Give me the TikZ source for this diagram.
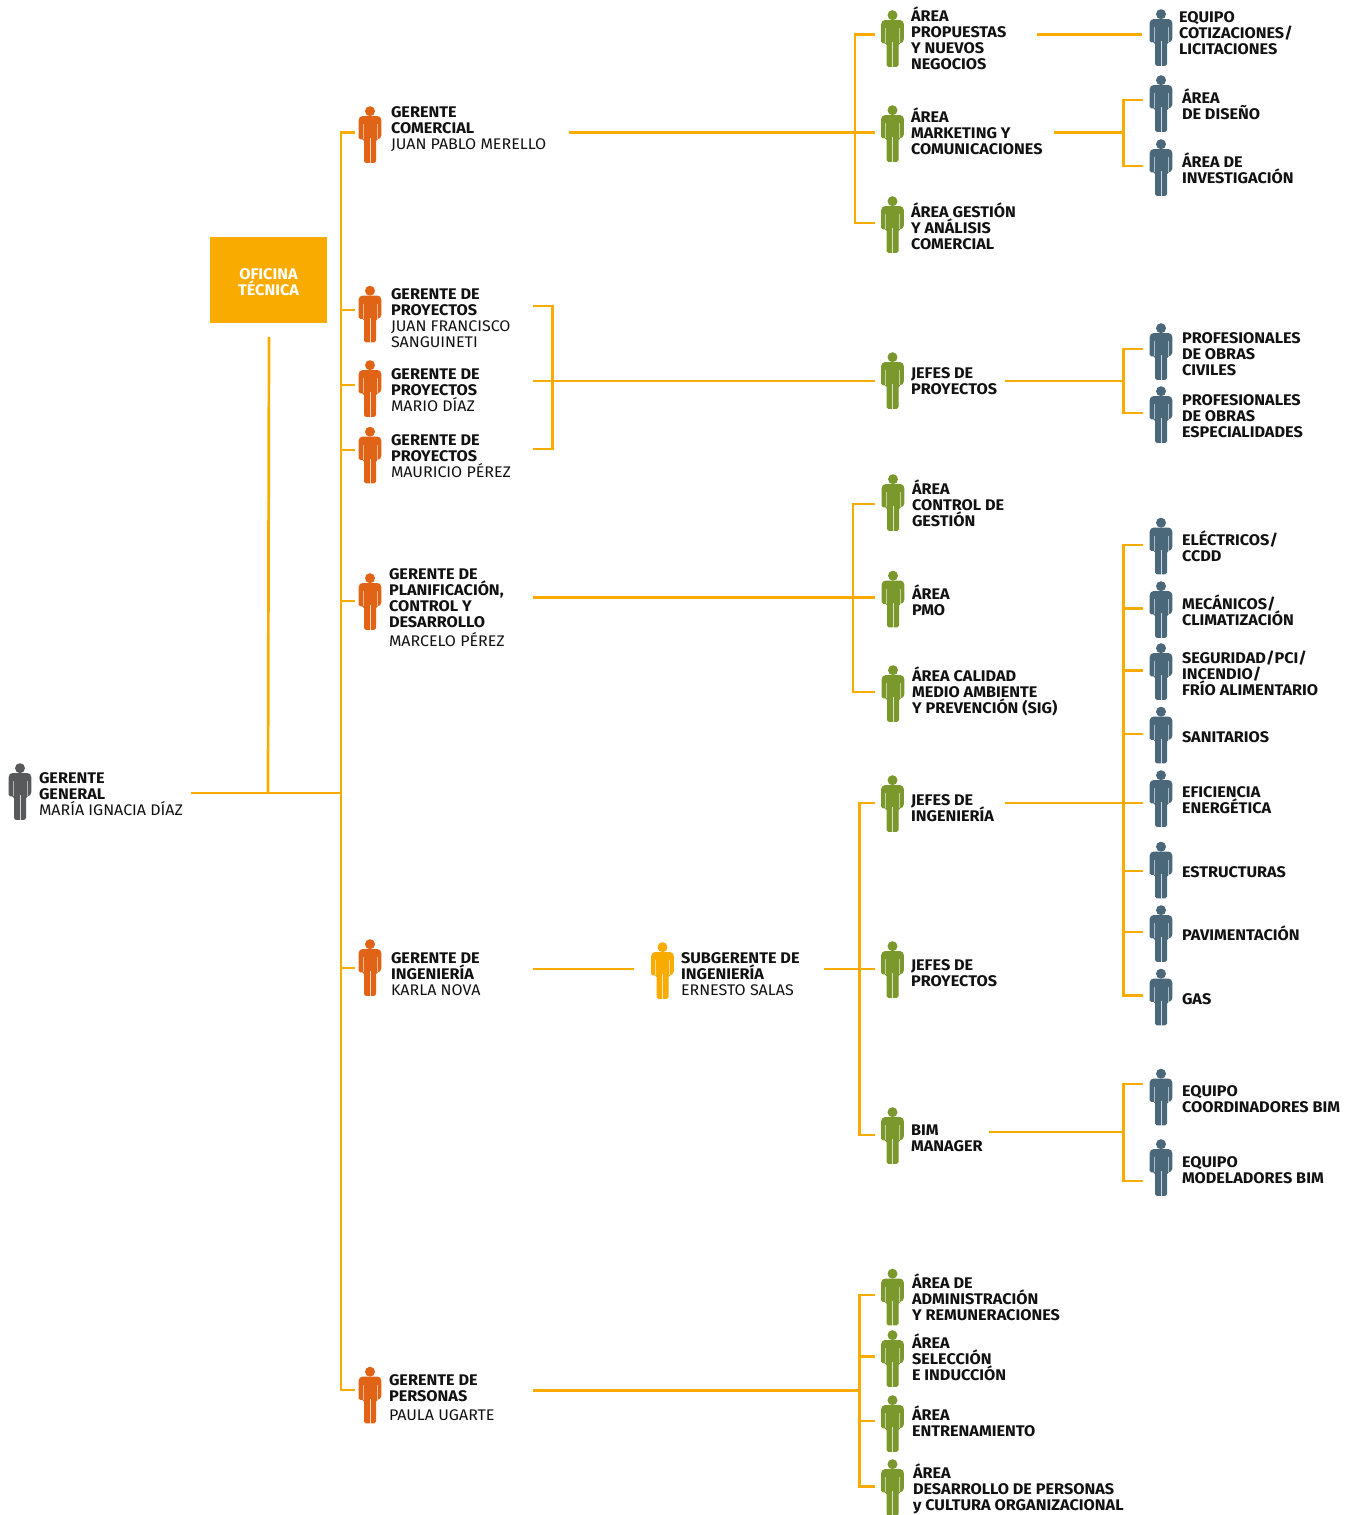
\documentclass[tikz,border=0pt]{standalone}
\usepackage{fontspec}
\setmainfont{Fira Sans}[FakeStretch=1.055]
\newfontfamily\nmfont{Fira Sans}[FakeStretch=1.04]
\definecolor{lineamber}{HTML}{FAAB00}
\definecolor{pgrey}{HTML}{58595B}
\definecolor{porange}{HTML}{E06316}
\definecolor{pamber}{HTML}{FAAB00}
\definecolor{pgreen}{HTML}{7A982B}
\definecolor{pblue}{HTML}{4A6879}
\definecolor{ink}{HTML}{111111}
\setlength{\lineskiplimit}{-20pt}
\tikzset{
  conn/.style={draw=lineamber,line width=2.7pt},
  lab/.style={anchor=north west,inner sep=0pt,outer sep=0pt,align=left,text=ink,font=\fontsize{15.4}{16.1}\selectfont\bfseries},
  figbox/.style={inner sep=0pt,outer sep=0pt,minimum width=23pt,minimum height=57pt},
  figure/.pic={
    \fill[pic actions] (0,5.2) circle[radius=5pt];
    \fill[pic actions,rounded corners=1.6pt] (-6,56.8) -- (-6,33.4) -- (-11.3,33.4)
      [rounded corners=4pt] -- (-11.3,10) -- (11.3,10) -- (11.3,33.4)
      [rounded corners=1.6pt] -- (6,33.4) -- (6,56.8) -- cycle;
    \draw[white,line width=.9pt,opacity=.75] (0,32) -- (0,57);
    \draw[white,line width=.6pt,opacity=.55] (-6.9,18) -- (-6.9,33) (6.9,18) -- (6.9,33);
  }
}
\newcommand{\nm}[1]{{\nmfont\mdseries #1}}
% name, x, top, colour, port x, port y
\newcommand{\fig}[6]{%
  \node[figbox] (#1) at (#2,#3+28.5) {};
  \pic[fill=#4] at (#2,#3) {figure};
  \coordinate (#1-in) at (#5,#6);
}
% name, x, baseline of first line, text
\newcommand{\lab}[4]{\node[lab] (#1) at (#2,#3-16) {\rule{0pt}{16pt}#4};}
\begin{document}
\begin{tikzpicture}[x=1pt,y=-1pt]
\useasboundingbox (0,0) rectangle (1354,1515);
% ---- office
\node[fill=pamber,minimum width=117pt,minimum height=86pt,inner sep=0pt,outer sep=0pt] (oficina) at (268.5,280) {};
\node[lab,anchor=north,align=center,text=white] (oficinatxt) at (268.5,263) {\rule{0pt}{16pt}OFICINA\\TÉCNICA};
% ---- general manager
\fig{gg}{20}{763}{pgrey}{191}{793}
\lab{lgg}{39}{783}{GERENTE\\GENERAL\\[.7pt]\nm{MARÍA IGNACIA DÍAZ}}
% ---- level 1
\fig{gc}{370}{106}{porange}{355}{132.5}
\lab{lgc}{391}{117}{GERENTE\\COMERCIAL\\\nm{JUAN PABLO MERELLO}}
\fig{gpa}{370}{285.5}{porange}{355}{310}
\lab{lgpa}{391}{299.2}{GERENTE DE\\PROYECTOS\\\nm{JUAN FRANCISCO}\\\nm{SANGUINETI}}
\fig{gpb}{370}{360}{porange}{355}{385}
\lab{lgpb}{391}{379}{GERENTE DE\\PROYECTOS\\\nm{MARIO DÍAZ}}
\fig{gpc}{370}{426.5}{porange}{355}{450}
\lab{lgpc}{391}{445.7}{GERENTE DE\\PROYECTOS\\\nm{MAURICIO PÉREZ}}
\fig{gpl}{370}{573}{porange}{355}{601}
\lab{lgpl}{389}{579.5}{GERENTE DE\\PLANIFICACIÓN,\\CONTROL Y\\DESARROLLO\\[2.5pt]\nm{MARCELO PÉREZ}}
\fig{gi}{370}{939}{porange}{355}{968}
\lab{lgi}{391}{963}{GERENTE DE\\INGENIERÍA\\[.7pt]\nm{KARLA NOVA}}
\fig{gpe}{370}{1366.5}{porange}{355}{1390}
\lab{lgpe}{389}{1385}{GERENTE DE\\PERSONAS\\[3.7pt]\nm{PAULA UGARTE}}
% ---- subgerente
\fig{sg}{662.5}{942}{pamber}{634}{969}
\lab{lsg}{681}{963}{SUBGERENTE DE\\INGENIERÍA\\[.7pt]\nm{ERNESTO SALAS}}
% ---- commercial areas
\fig{ap}{892.5}{10}{pgreen}{875}{34.5}
\lab{lap}{911}{21}{ÁREA\\PROPUESTAS\\Y NUEVOS\\NEGOCIOS}
\fig{am}{892.5}{105}{pgreen}{875}{132.5}
\lab{lam}{911}{122.2}{ÁREA\\MARKETING Y\\COMUNICACIONES}
\fig{ag}{892.5}{196}{pgreen}{875}{223}
\lab{lag}{911}{217.5}{ÁREA GESTIÓN\\Y ANÁLISIS\\COMERCIAL}
\fig{ec}{1161}{9}{pblue}{1142}{34.5}
\lab{lec}{1179}{22.3}{EQUIPO\\COTIZACIONES/\\LICITACIONES}
\fig{ad}{1161}{75}{pblue}{1143}{100}
\lab{lad}{1182}{103}{ÁREA\\DE DISEÑO}
\fig{ai}{1161}{139}{pblue}{1143}{166}
\lab{lai}{1182}{167}{ÁREA DE\\INVESTIGACIÓN}
% ---- project chiefs
\fig{jp}{892.5}{352}{pgreen}{875}{381}
\lab{ljp}{911}{378.5}{JEFES DE\\PROYECTOS}
\fig{pc}{1161}{323}{pblue}{1143}{349}
\lab{lpc}{1182}{343.5}{PROFESIONALES\\DE OBRAS\\CIVILES}
\fig{pes}{1161}{386}{pblue}{1143}{413}
\lab{lpes}{1182}{405.5}{PROFESIONALES\\DE OBRAS\\ESPECIALIDADES}
% ---- planning areas
\fig{acg}{893}{474}{pgreen}{875}{504}
\lab{lacg}{912}{494.5}{ÁREA\\CONTROL DE\\GESTIÓN}
\fig{apm}{893}{570.5}{pgreen}{875}{597.5}
\lab{lapm}{912}{599.5}{ÁREA\\PMO}
\fig{acm}{893}{665}{pgreen}{875}{692}
\lab{lacm}{912}{681.5}{ÁREA CALIDAD\\MEDIO AMBIENTE\\Y PREVENCIÓN (SIG)}
% ---- engineering chiefs
\fig{ji}{892.5}{775}{pgreen}{875}{803}
\lab{lji}{911}{805.5}{JEFES DE\\INGENIERÍA}
\fig{jpi}{892.5}{941}{pgreen}{875}{969}
\lab{ljpi}{911}{970.5}{JEFES DE\\PROYECTOS}
\fig{bim}{892.5}{1107}{pgreen}{875}{1135}
\lab{lbim}{911}{1135.5}{BIM\\MANAGER}
% ---- specialties
\fig{s1}{1161}{517.5}{pblue}{1143}{545}
\lab{ls1}{1182}{545.5}{ELÉCTRICOS/\\CCDD}
\fig{s2}{1161}{581}{pblue}{1143}{608.5}
\lab{ls2}{1182}{609.5}{MECÁNICOS/\\CLIMATIZACIÓN}
\fig{s3}{1161}{643}{pblue}{1143}{670.5}
\lab{ls3}{1182}{663.5}{SEGURIDAD/PCI/\\INCENDIO/\\FRÍO ALIMENTARIO}
\fig{s4}{1161}{706.5}{pblue}{1143}{734}
\lab{ls4}{1182}{742.5}{SANITARIOS}
\fig{s5}{1161}{770}{pblue}{1143}{803}
\lab{ls5}{1182}{797.5}{EFICIENCIA\\ENERGÉTICA}
\fig{s6}{1161}{841.5}{pblue}{1143}{871}
\lab{ls6}{1182}{877.5}{ESTRUCTURAS}
\fig{s7}{1161}{905}{pblue}{1143}{932}
\lab{ls7}{1182}{940.5}{PAVIMENTACIÓN}
\fig{s8}{1161}{968.5}{pblue}{1143}{995.5}
\lab{ls8}{1182}{1004.5}{GAS}
% ---- BIM teams
\fig{eb}{1161}{1068.5}{pblue}{1143}{1084}
\lab{leb}{1182}{1096.5}{EQUIPO\\COORDINADORES BIM}
\fig{em}{1161}{1139}{pblue}{1143}{1181}
\lab{lem}{1182}{1167.5}{EQUIPO\\MODELADORES BIM}
% ---- people areas
\fig{pa}{892.5}{1268.5}{pgreen}{875}{1295}
\lab{lpa}{912}{1288.5}{ÁREA DE\\ADMINISTRACIÓN\\Y REMUNERACIONES}
\fig{pb}{892.5}{1330}{pgreen}{875}{1356.5}
\lab{lpb}{912}{1348.5}{ÁREA\\SELECCIÓN\\E INDUCCIÓN}
\fig{pd}{892.5}{1395}{pgreen}{875}{1421}
\lab{lpd}{912}{1420.5}{ÁREA\\ENTRENAMIENTO}
\fig{pf}{892.5}{1459}{pgreen}{875}{1486.5}
\lab{lpf}{913}{1478.5}{ÁREA\\DESARROLLO DE PERSONAS\\y CULTURA ORGANIZACIONAL}
% ---- junctions and free ends
\coordinate (tr) at (341,793);
\coordinate (ofdrop) at (268,793);
\coordinate (oftop) at (269,337);
\coordinate (bpx) at (552.5,381);
\coordinate (bpa) at (533,306);
\coordinate (bpc) at (533,449);
\coordinate (bpb) at (533,381);
\coordinate (gcout) at (569,132.5);
\coordinate (j1) at (855,132.5);
\coordinate (apout) at (1037,34.5);
\coordinate (amout) at (1054,132.5);
\coordinate (j2) at (1123.5,132.5);
\coordinate (jpout) at (1005,381);
\coordinate (j3) at (1123.5,381);
\coordinate (plout) at (533,597.5);
\coordinate (j4) at (853,597.5);
\coordinate (giout) at (533,969);
\coordinate (sgout) at (824,969);
\coordinate (j5) at (859.5,969);
\coordinate (jiout) at (1005,803);
\coordinate (j6) at (1123.5,803);
\coordinate (bimout) at (989,1132);
\coordinate (j7) at (1123.5,1132);
\coordinate (peout) at (533,1390.5);
\coordinate (j8) at (859.5,1390.5);
% ---- connectors
\draw[conn] (gg-in) -- (tr);
\draw[conn] (oftop) -- (ofdrop);
\draw[conn] (gc-in) -| (tr) |- (gpe-in);
\foreach \n in {gpa,gpb,gpc,gpl,gi} \draw[conn] (tr |- \n-in) -- (\n-in);
\draw[conn] (bpa) -| (bpx) |- (bpc);
\draw[conn] (bpb) -- (jp-in);
\draw[conn] (gcout) -- (am-in);
\draw[conn] (ap-in) -| (j1) |- (ag-in);
\draw[conn] (apout) -- (ec-in);
\draw[conn] (amout) -- (j2);
\draw[conn] (ad-in) -| (j2) |- (ai-in);
\draw[conn] (jpout) -- (j3);
\draw[conn] (pc-in) -| (j3) |- (pes-in);
\draw[conn] (plout) -- (apm-in);
\draw[conn] (acg-in) -| (j4) |- (acm-in);
\draw[conn] (giout) -- (sg-in);
\draw[conn] (sgout) -- (jpi-in);
\draw[conn] (ji-in) -| (j5) |- (bim-in);
\draw[conn] (jiout) -- (s5-in);
\draw[conn] (s1-in) -| (j6) |- (s8-in);
\foreach \n in {s2,s3,s4,s6,s7} \draw[conn] (j6 |- \n-in) -- (\n-in);
\draw[conn] (bimout) -- (j7);
\draw[conn] (eb-in) -| (j7) |- (em-in);
\draw[conn] (peout) -- (j8);
\draw[conn] (pa-in) -| (j8) |- (pf-in);
\foreach \n in {pb,pd} \draw[conn] (j8 |- \n-in) -- (\n-in);
\end{tikzpicture}
\end{document}
